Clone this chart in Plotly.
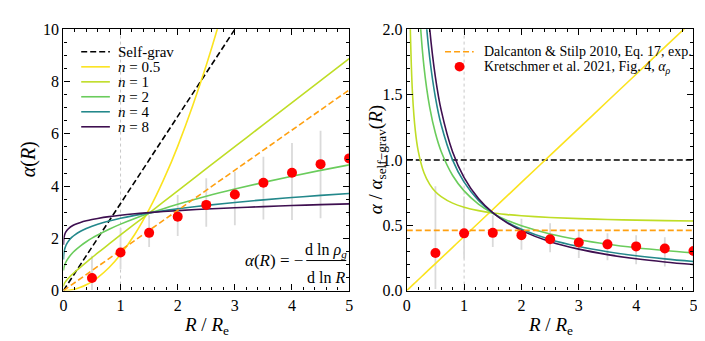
import numpy as np
import plotly.graph_objects as go

# radius grid (R / R_e) for the model curves
grid_R = [0.001, 0.003, 0.01, 0.02, 0.04, 0.06, 0.1, 0.15, 0.2, 0.3, 0.4, 0.5, 0.6, 0.8,
          1.0, 1.25, 1.5, 1.75, 2.0, 2.5, 3.0, 3.5, 4.0, 4.5, 5.0]

alpha_selfgrav = [0.00333, 0.01, 0.0333, 0.0667, 0.1333, 0.2, 0.3333, 0.5, 0.6667, 1.0, 1.3333,
                  1.6667, 2.0, 2.6667, 3.3333, 4.1667, 5.0, 5.8333, 6.6667, 8.3333, 10.0,
                  11.6667, 13.3333, 15.0, 16.6667]
alpha_n05 = [0.0, 0.00001, 0.00014, 0.00055, 0.0022, 0.005, 0.0138, 0.0311, 0.0552, 0.1242,
             0.2208, 0.345, 0.4968, 0.8832, 1.38, 2.156, 3.105, 4.226, 5.52, 8.625, 12.42,
             16.905, 22.08, 27.945, 34.5]
alpha_n1 = [0.154, 0.185, 0.238, 0.284, 0.352, 0.407, 0.503, 0.610, 0.712, 0.902, 1.084, 1.261,
            1.44, 1.785, 2.128, 2.55, 2.967, 3.394, 3.819, 4.665, 5.509, 6.352, 7.193, 8.034, 8.875]
alpha_n2 = [0.767, 0.809, 0.893, 0.968, 1.076, 1.158, 1.289, 1.420, 1.530, 1.714, 1.870, 2.007,
            2.130, 2.350, 2.544, 2.761, 2.956, 3.136, 3.304, 3.610, 3.887, 4.142, 4.379, 4.602, 4.812]
alpha_n4 = [1.192, 1.300, 1.457, 1.572, 1.708, 1.800, 1.929, 2.044, 2.133, 2.270, 2.376, 2.463,
            2.538, 2.664, 2.768, 2.878, 2.973, 3.056, 3.131, 3.261, 3.374, 3.473, 3.562, 3.643, 3.717]
alpha_n8 = [1.751, 1.872, 2.026, 2.126, 2.235, 2.303, 2.394, 2.470, 2.526, 2.610, 2.672, 2.721,
            2.762, 2.830, 2.884, 2.939, 2.985, 3.025, 3.061, 3.121, 3.172, 3.215, 3.254, 3.289, 3.320]

# Dalcanton & Stilp 2010 (straight line)
ds_R = [0.0, 5.0]
ds_alpha = [0.0, 7.68]
ds_ratio = [0.461, 0.461]

# Kretschmer et al. 2021
obs_R = [0.5, 1.0, 1.5, 2.0, 2.5, 3.0, 3.5, 4.0, 4.5, 5.0]
obs_alpha = [0.48, 1.46, 2.21, 2.83, 3.28, 3.68, 4.13, 4.51, 4.84, 5.06]
obs_hi = [1.33, 2.40, 2.88, 3.66, 4.30, 4.55, 5.12, 5.65, 6.12, 6.55]
obs_lo = [0.02, 0.82, 1.67, 2.09, 2.44, 2.50, 2.72, 2.70, 2.77, 2.85]
obs_selfgrav = [1.6667, 3.3333, 5.0, 6.6667, 8.3333, 10.0, 11.6667, 13.3333, 15.0, 16.6667]

FONT = "Liberation Serif, Times New Roman, serif"
models = [
    ("<i>n</i> = 0.5", alpha_n05, "#fbe31f"),
    ("<i>n</i> = 1", alpha_n1, "#bfdd26"),
    ("<i>n</i> = 2", alpha_n2, "#6acc5c"),
    ("<i>n</i> = 4", alpha_n4, "#23888b"),
    ("<i>n</i> = 8", alpha_n8, "#3e0f50"),
]
DASH = "6px,3px"

fig = go.Figure()

R = np.array(grid_R)
sg = np.array(alpha_selfgrav)
oR = np.array(obs_R)
oa = np.array(obs_alpha)
ohi = np.array(obs_hi)
olo = np.array(obs_lo)
osg = np.array(obs_selfgrav)

# error bars first (under the curves)
fig.add_trace(go.Scatter(x=oR, y=oa, mode="markers", marker=dict(size=1, color="rgba(0,0,0,0)"),
                         error_y=dict(type="data", symmetric=False, array=ohi - oa, arrayminus=oa - olo,
                                      color="#dadada", thickness=1.8, width=0),
                         xaxis="x", yaxis="y", showlegend=False, hoverinfo="skip"))
fig.add_trace(go.Scatter(x=oR, y=oa / osg, mode="markers", marker=dict(size=1, color="rgba(0,0,0,0)"),
                         error_y=dict(type="data", symmetric=False, array=(ohi - oa) / osg,
                                      arrayminus=(oa - olo) / osg, color="#dadada", thickness=1.8, width=0),
                         xaxis="x2", yaxis="y2", showlegend=False, hoverinfo="skip"))

# left panel
fig.add_trace(go.Scatter(x=R, y=sg, mode="lines", line=dict(color="black", width=1.6, dash=DASH),
                         xaxis="x", yaxis="y", showlegend=False))
for name, vals, col in models:
    fig.add_trace(go.Scatter(x=R, y=vals, mode="lines", line=dict(color=col, width=1.6, shape="spline"),
                             xaxis="x", yaxis="y", showlegend=False))
fig.add_trace(go.Scatter(x=ds_R, y=ds_alpha, mode="lines", line=dict(color="#ffa010", width=1.6, dash=DASH),
                         xaxis="x", yaxis="y", showlegend=False))
fig.add_trace(go.Scatter(x=oR, y=oa, mode="markers", marker=dict(color="red", size=10),
                         xaxis="x", yaxis="y", showlegend=False))

# right panel: ratio to self-gravitating profile
fig.add_trace(go.Scatter(x=[0, 5], y=[1, 1], mode="lines", line=dict(color="black", width=1.4, dash=DASH),
                         xaxis="x2", yaxis="y2", showlegend=False))
for name, vals, col in models:
    ratio = np.array(vals) / sg
    keep = ratio < 6
    fig.add_trace(go.Scatter(x=R[keep], y=ratio[keep], mode="lines",
                             line=dict(color=col, width=1.6, shape="spline"),
                             xaxis="x2", yaxis="y2", showlegend=False))
fig.add_trace(go.Scatter(x=ds_R, y=ds_ratio, mode="lines", line=dict(color="#ffa010", width=1.6, dash=DASH),
                         xaxis="x2", yaxis="y2", showlegend=False))
fig.add_trace(go.Scatter(x=oR, y=oa / osg, mode="markers", marker=dict(color="red", size=10),
                         xaxis="x2", yaxis="y2", showlegend=False))

W, H = 705, 341


def px(x):
    return x / W


def py(y):
    return 1 - y / H


axis_common = dict(showline=True, linecolor="black", linewidth=1.3, mirror="allticks",
                   ticks="inside", ticklen=6, tickwidth=1, tickcolor="black",
                   showgrid=False, zeroline=False,
                   tickfont=dict(family=FONT, size=16, color="black"))

xdom1 = [px(52), px(341)]
xdom2 = [px(399.3), px(689.3)]
ydom = [py(289), py(14)]

fig.update_layout(
    width=W, height=H, margin=dict(l=0, r=0, t=0, b=0),
    paper_bgcolor="white", plot_bgcolor="white",
    font=dict(family=FONT, size=15, color="black"),
    xaxis=dict(domain=xdom1, range=[0, 5], dtick=1, anchor="y",
               minor=dict(dtick=0.2, ticks="inside", ticklen=3, tickcolor="black"), **axis_common),
    yaxis=dict(domain=ydom, range=[0, 10], dtick=2, anchor="x",
               minor=dict(dtick=0.5, ticks="inside", ticklen=3, tickcolor="black"), **axis_common),
    xaxis2=dict(domain=xdom2, range=[0, 5], dtick=1, anchor="y2",
                minor=dict(dtick=0.2, ticks="inside", ticklen=3, tickcolor="black"), **axis_common),
    yaxis2=dict(domain=ydom, range=[0, 2], dtick=0.5, tickformat=".1f", anchor="x2",
                minor=dict(dtick=0.1, ticks="inside", ticklen=3, tickcolor="black"), **axis_common),
)

shapes = []
annotations = []
# dotted guide at R = Re
for xr, yr in (("x", "y domain"), ("x2", "y2 domain")):
    shapes.append(dict(type="line", xref=xr, yref=yr, x0=1, x1=1, y0=0, y1=1, layer="below",
                       line=dict(color="#c8c8c8", width=1, dash="dot")))

# left legend
left_entries = [("Self-grav", "black", DASH)] + [(n, c, "solid") for n, _, c in models]
row_y = [37.7, 53.5, 69.3, 85.0, 100.8, 116.6]
for (label, col, dash), yy in zip(left_entries, row_y):
    shapes.append(dict(type="line", xref="paper", yref="paper", x0=px(70), x1=px(99), y0=py(yy), y1=py(yy),
                       line=dict(color=col, width=1.6, dash=dash)))
    annotations.append(dict(text=label, xref="paper", yref="paper", x=px(105), y=py(yy), xanchor="left",
                            yanchor="middle", showarrow=False, font=dict(family=FONT, size=15)))

# right legend
shapes.append(dict(type="line", xref="paper", yref="paper", x0=px(438), x1=px(467), y0=py(37.7), y1=py(37.7),
                   line=dict(color="#ffa010", width=1.6, dash=DASH)))
annotations.append(dict(text="Dalcanton &amp; Stilp 2010, Eq. 17, exp.", xref="paper", yref="paper",
                        x=px(475), y=py(37.7), xanchor="left", yanchor="middle", showarrow=False,
                        font=dict(family=FONT, size=14)))
shapes.append(dict(type="circle", xref="paper", yref="paper", x0=px(447.7), x1=px(457.7),
                   y0=py(58.3), y1=py(48.3), fillcolor="red", line=dict(color="red", width=0)))
annotations.append(dict(text="Kretschmer et al. 2021, Fig. 4, <i>α</i><sub><i>ρ</i></sub>", xref="paper",
                        yref="paper", x=px(475), y=py(54), xanchor="left", yanchor="middle",
                        showarrow=False, font=dict(family=FONT, size=14)))

# formula in left panel
annotations.append(dict(text="<i>α</i>(<i>R</i>) = −", xref="x", yref="y", x=4.22, y=1.15, xanchor="right",
                        yanchor="middle", showarrow=False, font=dict(family=FONT, size=17)))
annotations.append(dict(text="d ln <i>ρ</i><sub><i>g</i></sub>", xref="x", yref="y", x=4.59, y=1.55,
                        xanchor="center", yanchor="middle", showarrow=False, font=dict(family=FONT, size=16)))
annotations.append(dict(text="d ln <i>R</i>", xref="x", yref="y", x=4.59, y=0.5,
                        xanchor="center", yanchor="middle", showarrow=False, font=dict(family=FONT, size=16)))
shapes.append(dict(type="line", xref="x", yref="y", x0=4.25, x1=4.95, y0=1.15, y1=1.15,
                   line=dict(color="black", width=1)))

# axis titles
for xc in ((52 + 341) / 2, (399.3 + 689.3) / 2):
    annotations.append(dict(text="<i>R</i> / <i>R</i><sub>e</sub>", xref="paper", yref="paper", x=px(xc),
                            y=py(326), xanchor="center", yanchor="middle", showarrow=False,
                            font=dict(family=FONT, size=19)))
annotations.append(dict(text="<i>α</i>(<i>R</i>)", xref="paper", yref="paper", x=px(17), y=py(151),
                        textangle=-90, xanchor="center", yanchor="middle", showarrow=False,
                        font=dict(family=FONT, size=20)))
annotations.append(dict(text="<i>α</i> / <i>α</i><sub>self−grav</sub>(<i>R</i>)", xref="paper", yref="paper",
                        x=px(370), y=py(151), textangle=-90, xanchor="center", yanchor="middle",
                        showarrow=False, font=dict(family=FONT, size=19)))

fig.update_layout(shapes=shapes, annotations=annotations)
fig.write_html("out.html")
